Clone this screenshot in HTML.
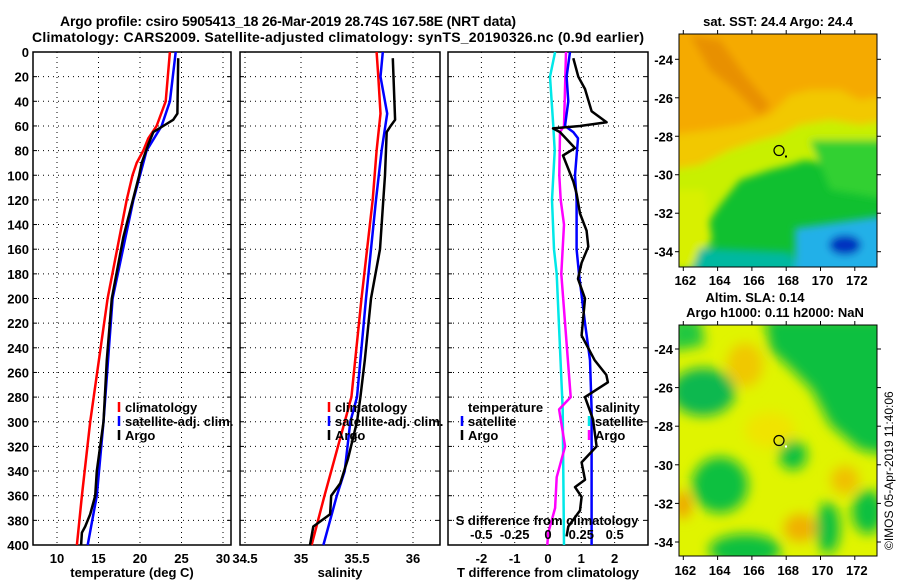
<!DOCTYPE html>
<html><head><meta charset="utf-8"><style>
body{margin:0;background:#fff;}
svg{display:block;font-family:"Liberation Sans",sans-serif;font-weight:bold;}
text{fill:#000;}
</style></head><body>
<svg id="chart" width="900" height="580" viewBox="0 0 900 580" xmlns="http://www.w3.org/2000/svg">
<defs>
<filter id="blur1" x="-20%" y="-20%" width="140%" height="140%"><feGaussianBlur stdDeviation="4"/></filter>
<filter id="blur2" x="-30%" y="-30%" width="160%" height="160%"><feGaussianBlur stdDeviation="6"/></filter>
<clipPath id="clipTop"><rect x="679" y="34" width="198" height="233"/></clipPath>
<clipPath id="clipBot"><rect x="679" y="325" width="198" height="231"/></clipPath>
</defs>
<text x="288" y="26" font-size="14" text-anchor="middle" textLength="456">Argo profile: csiro 5905413_18 26-Mar-2019 28.74S 167.58E (NRT data)</text>
<text x="338" y="42" font-size="14" text-anchor="middle" textLength="612">Climatology: CARS2009. Satellite-adjusted climatology: synTS_20190326.nc (0.9d earlier)</text>

<!-- top map -->
<g clip-path="url(#clipTop)">
<rect x="679" y="34" width="198" height="233" fill="#10c030"/>
<g filter="url(#blur1)">
<polygon points="670,20 890,20 890,150 860,160 830,165 805,160 790,165 770,170 740,180 720,205 700,235 670,240" fill="#c8f000"/>
<polygon points="670,20 890,20 890,120 860,125 830,120 800,125 780,135 760,140 730,150 700,165 670,170" fill="#f2c800"/>
<polygon points="670,20 890,20 890,95 860,100 840,90 810,90 790,95 770,115 740,125 710,130 670,135" fill="#f5aa00"/>
<polygon points="690,35 720,40 745,75 770,105 760,115 735,90 710,70" fill="#e89000"/>
<polygon points="670,190 705,190 712,240 690,270 670,270" fill="#d8f000"/>
<polygon points="810,140 890,140 890,200 830,190" fill="#30d030"/>
<polygon points="700,248 790,252 800,275 690,275" fill="#00b8a0"/>
<polygon points="795,228 890,215 890,275 795,275" fill="#20b0e8"/>
<ellipse cx="845" cy="245" rx="16" ry="10" fill="#0030c0"/>
</g>
</g>
<rect x="679" y="34" width="198" height="233" fill="none" stroke="#000" stroke-width="1"/>
<text x="778" y="26" font-size="13" text-anchor="middle">sat. SST: 24.4 Argo: 24.4</text>

<!-- bottom map -->
<g clip-path="url(#clipBot)">
<rect x="679" y="325" width="198" height="231" fill="#e0f400"/>
<g filter="url(#blur2)">
<polygon points="765,318 890,318 890,455 860,450 830,425 812,390 790,368 770,350" fill="#10c040"/>
<polygon points="670,318 700,318 705,345 680,350 670,350" fill="#20c840"/>
<ellipse cx="703" cy="392" rx="32" ry="24" fill="#10b850"/>
<ellipse cx="720" cy="485" rx="28" ry="28" fill="#10c040"/>
<ellipse cx="793" cy="455" rx="14" ry="15" fill="#10c040"/>
<ellipse cx="828" cy="528" rx="12" ry="26" fill="#10c040"/>
<ellipse cx="745" cy="550" rx="36" ry="16" fill="#10c040"/>
<ellipse cx="868" cy="512" rx="16" ry="22" fill="#10c040"/>
<ellipse cx="745" cy="365" rx="18" ry="22" fill="#f0c800"/>
<ellipse cx="800" cy="528" rx="16" ry="14" fill="#f0b000"/>
<ellipse cx="845" cy="480" rx="14" ry="14" fill="#f0c000"/>
<ellipse cx="683" cy="505" rx="8" ry="14" fill="#f0a000"/>
<ellipse cx="770" cy="430" rx="25" ry="18" fill="#f0e400"/>
</g>
</g>
<rect x="679" y="325" width="198" height="231" fill="none" stroke="#000" stroke-width="1"/>
<text x="755" y="302" font-size="13" text-anchor="middle">Altim. SLA: 0.14</text>
<text x="775" y="317" font-size="13" text-anchor="middle">Argo h1000: 0.11 h2000: NaN</text>
<text transform="translate(893,550) rotate(-90)" font-size="12" font-weight="normal">©IMOS 05-Apr-2019 11:40:06</text>
<g id="layer"></g>
</svg>
<script>
// ---------- data ----------
const depthTicks = [0,20,40,60,80,100,120,140,160,180,200,220,240,260,280,300,320,340,360,380,400];
const tempTicks = [10,15,20,25,30];
const salTicks = [34.5,35,35.5,36];
const tdiffTicks = [-2,-1,0,1,2];
const sdiffTicks = [-0.5,-0.25,0,0.25,0.5];
const sdiffTickLabels = ['-0.5','-0.25','0','0.25','0.5'];
const lonTicks = [162,164,166,168,170,172];
const latTicks = [-24,-26,-28,-30,-32,-34];

const climTempDepth = [0,40,60,70,80,90,100,120,200,300,360,400];
const climTemp = [23.6,23.1,22.0,21.0,20.4,19.6,19.1,18.4,16.1,14.0,13.0,12.4];
const satTempDepth = [0,40,60,80,100,120,200,300,360,400];
const satTemp = [24.3,23.6,22.6,20.8,20.0,19.2,16.7,15.6,14.8,13.7];
const argoTempDepth = [5,50,55,60,65,75,90,100,150,200,250,300,340,360,375,385,390,400];
const argoTemp = [24.6,24.5,24.0,22.8,21.6,21.0,20.2,19.9,18.0,16.6,16.0,15.6,14.8,14.6,14.0,13.4,13.0,12.9];

const climSalDepth = [0,20,50,80,120,200,280,300,360,400];
const climSal = [35.675,35.69,35.71,35.675,35.64,35.54,35.45,35.39,35.21,35.095];
const satSalDepth = [0,20,50,80,120,200,280,300,340,360,400];
const satSal = [35.73,35.71,35.77,35.72,35.67,35.58,35.5,35.44,35.39,35.32,35.2];
const argoSalDepth = [5,55,60,65,100,120,160,200,250,280,300,330,350,360,375,385,400];
const argoSal = [35.82,35.84,35.8,35.765,35.75,35.735,35.705,35.625,35.57,35.53,35.5,35.42,35.35,35.27,35.26,35.11,35.08];

const satTdiffDepth = [0,20,40,60,65,70,100,120,160,180,220,250,290,400];
const satTdiff = [0.66,0.56,0.61,0.51,0.76,0.9,0.81,0.86,0.86,0.93,1.11,1.26,1.31,1.31];
const argoTdiffDepth = [5,20,30,48,57,60,62,65,78,84,105,115,131,145,158,171,184,200,230,250,262,268,280,298,320,333,347,353,361,372,385,393];
const argoTdiff = [0.76,0.91,1.11,1.31,1.76,0.96,0.15,0.36,0.81,0.45,0.76,0.86,0.96,1.16,1.21,1.01,0.9,1.11,1.01,1.4,1.75,1.8,1.11,1.35,1.46,1.01,1.11,0.81,1.01,0.96,0.61,0.56];
const satSdiffDepth = [0,20,60,80,120,160,180,290,400];
const satSdiff = [0.053,0.015,0.04,0.05,0.03,0.045,0.065,0.11,0.12];
const argoSdiffDepth = [0,60,65,100,120,140,180,230,280,290,320,345,370,390,400];
const argoSdiff = [0.135,0.12,0.09,0.085,0.095,0.12,0.1,0.135,0.17,0.083,0.128,0.065,0.053,0.002,-0.005];

// ---------- scales ----------
const Y0=52, Y1=545;
const yD = d => Y0 + d*(Y1-Y0)/400;
const P1={l:33,r:231}, P2={l:240,r:440}, P3={l:448,r:648};
const xT = t => 57 + (t-10)*8.3;
const xS = s => 301 + (s-35)*112;
const xTd = d => 548 + d*33.3;
const xSd = s => 548 + s*133.3;
const mLon = lo => 683.3 + (lo-162)*17.15;
const mLatTop = la => 59.3 + (-24-la)*19.24;
const mLatBot = la => 349 + (-24-la)*19.3;

const NS='http://www.w3.org/2000/svg';
const layer=document.getElementById('layer');
function mk(tag,attrs,parent){const e=document.createElementNS(NS,tag);for(const k in attrs)e.setAttribute(k,attrs[k]);(parent||layer).appendChild(e);return e;}
function txt(s,x,y,anchor,size,parent){const e=mk('text',{x:x,y:y,'text-anchor':anchor||'middle','font-size':size||13},parent);e.textContent=s;return e;}

function panel(P,name,vx,xticks,xlabels,xtitle){
  const g=mk('g',{});
  
  
  depthTicks.forEach(d=>{
    const y=yD(d);
    if(d>0&&d<400){const l=mk('line',{x1:P.l,x2:P.r,y1:y,y2:y,stroke:'#000','stroke-width':1,'stroke-dasharray':'1,4'},g);
      
      }
    mk('line',{x1:P.l,x2:P.l+4,y1:y,y2:y,stroke:'#000'},g);
    mk('line',{x1:P.r-4,x2:P.r,y1:y,y2:y,stroke:'#000'},g);
  });
  xticks.forEach((v,i)=>{
    const x=vx(v);
    const l=mk('line',{x1:x,x2:x,y1:Y0,y2:Y1,stroke:'#000','stroke-width':1,'stroke-dasharray':'1,4'},g);
    
    
    if(xlabels){const t=txt(xlabels[i],x,Y1+18,'middle',13,g);
      
      }
  });
  const fr=mk('rect',{x:P.l,y:Y0,width:P.r-P.l,height:Y1-Y0,fill:'none',stroke:'#000','stroke-width':1.5},g);
  
  
  if(xtitle){const t=txt(xtitle,(P.l+P.r)/2,Y1+32,'middle',13,g);
    
    }
  return g;
}
function series(depths,vals,vx,color,w,name){
  const pts=depths.map((d,i)=>vx(vals[i]).toFixed(1)+','+yD(d).toFixed(1)).join(' ');
  const p=mk('polyline',{points:pts,fill:'none',stroke:color,'stroke-width':w,'stroke-linejoin':'round'});
  
  
}
function legendEntry(x,y,color,label,name){
  if(color){const m=mk('line',{x1:x,x2:x,y1:y-10,y2:y,stroke:color,'stroke-width':2.5});
    
    }
  const t=txt(label,x+6,y,'start',13);
  
  
}

depthTicks.forEach(d=>{
  const t=txt(String(d),29,yD(d)+5,'end',13);
  
  
});

panel(P1,'temperature-panel',xT,tempTicks,tempTicks.map(String),'temperature (deg C)');
panel(P2,'salinity-panel',xS,salTicks,salTicks.map(String),'salinity');
panel(P3,'difference-panel',xTd,tdiffTicks,tdiffTicks.map(String),'T difference from climatology');

series(climTempDepth,climTemp,xT,'#ff0000',2.5,'temp-climatology-line');
series(satTempDepth,satTemp,xT,'#0000ff',2.5,'temp-satellite-line');
series(argoTempDepth,argoTemp,xT,'#000',2.5,'temp-argo-line');
series(climSalDepth,climSal,xS,'#ff0000',2.5,'sal-climatology-line');
series(satSalDepth,satSal,xS,'#0000ff',2.5,'sal-satellite-line');
series(argoSalDepth,argoSal,xS,'#000',2.5,'sal-argo-line');
series(satSdiffDepth,satSdiff,xSd,'#00e8e8',2.5,'sdiff-satellite-line');
series(argoSdiffDepth,argoSdiff,xSd,'#ff00ff',2.5,'sdiff-argo-line');
series(satTdiffDepth,satTdiff,xTd,'#0000ff',2.5,'tdiff-satellite-line');
series(argoTdiffDepth,argoTdiff,xTd,'#000',2.5,'tdiff-argo-line');

sdiffTicks.forEach((v,i)=>{
  const t=txt(sdiffTickLabels[i],xSd(v),Y1-6,'middle',13);
  
  
});
const st=txt('S difference from climatology',547,525,'middle',13);



legendEntry(119,412,'#ff0000','climatology','legend-t-climatology');
legendEntry(119,426,'#0000ff','satellite-adj. clim.','legend-t-satellite');
legendEntry(119,440,'#000','Argo','legend-t-argo');
legendEntry(329,412,'#ff0000','climatology','legend-s-climatology');
legendEntry(329,426,'#0000ff','satellite-adj. clim.','legend-s-satellite');
legendEntry(329,440,'#000','Argo','legend-s-argo');
legendEntry(462,412,null,'temperature','legend-diff-temperature');
legendEntry(462,426,'#0000ff','satellite','legend-diff-t-satellite');
legendEntry(462,440,'#000','Argo','legend-diff-t-argo');
legendEntry(589,412,null,'salinity','legend-diff-salinity');
legendEntry(589,426,'#00e8e8','satellite','legend-diff-s-satellite');
legendEntry(589,440,'#ff00ff','Argo','legend-diff-s-argo');

function mapAxes(top,bottom,mLat,labY,name){
  lonTicks.forEach(lo=>{
    const x=mLon(lo);
    mk('line',{x1:x,x2:x,y1:top-4,y2:top,stroke:'#000'});
    mk('line',{x1:x,x2:x,y1:bottom,y2:bottom+4,stroke:'#000'});
    const t=txt(String(lo),x+2,labY,'middle',13);
    
    
  });
  latTicks.forEach(la=>{
    const y=mLat(la);
    mk('line',{x1:675,x2:679,y1:y,y2:y,stroke:'#000'});
    mk('line',{x1:877,x2:881,y1:y,y2:y,stroke:'#000'});
    const t=txt(String(la),673,y+5,'end',13);
    
    
  });
}
mapAxes(34,267,mLatTop,285,'sst-map');
mapAxes(325,556,mLatBot,575,'sla-map');
const profLon=167.58, profLat=-28.74;
[[mLatTop,'sst'],[mLatBot,'sla']].forEach(([f,n])=>{
  const c=mk('circle',{cx:mLon(profLon),cy:f(profLat),r:5,fill:'none',stroke:'#000','stroke-width':1.2});
  
  
  mk('rect',{x:mLon(profLon)+6,y:f(profLat)+5,width:2,height:2,fill:n==='sst'?'#000':'#fff'});
});
</script>
</body></html>
